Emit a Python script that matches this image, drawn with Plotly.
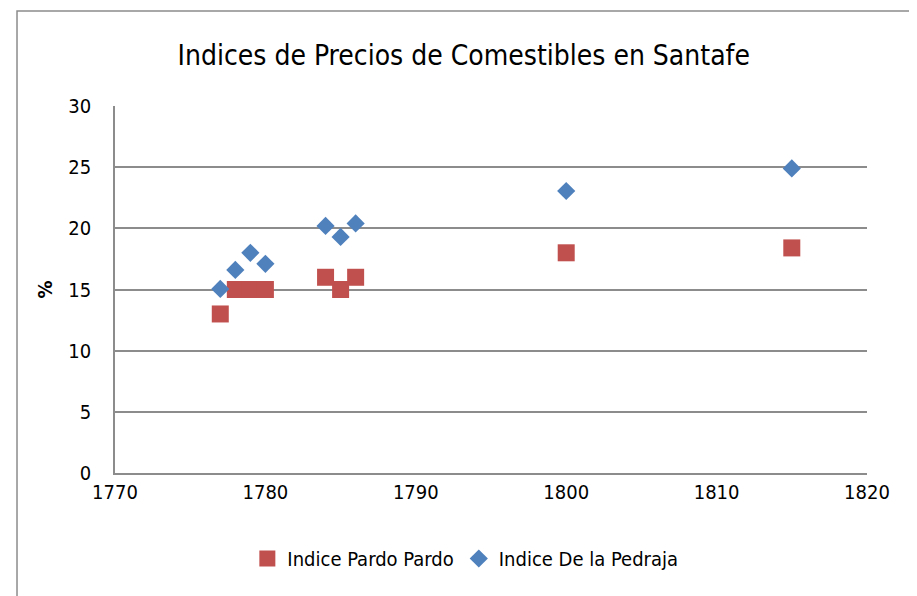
import plotly.graph_objects as go

years = [1777, 1778, 1779, 1780, 1784, 1785, 1786, 1800, 1815]
pardo = [13, 15, 15, 15, 16, 15, 16, 18, 18.4]
pedraja = [15.05, 16.6, 18, 17.1, 20.2, 19.3, 20.4, 23.05, 24.9]

font_name = "DejaVu Sans Condensed, Roboto, sans-serif"

fig = go.Figure()

fig.add_trace(
    go.Scatter(x = years,
               y = pardo,
               name = 'Indice Pardo Pardo',
               mode = 'markers',
               marker = dict(symbol = 'square', size = 17, color = '#C0504D')))

fig.add_trace(
    go.Scatter(x = years,
               y = pedraja,
               name = 'Indice De la Pedraja',
               mode = 'markers',
               marker = dict(symbol = 'diamond', size = 14, color = '#4F81BD')))

# page body has ~8px margin, so margins are shifted to keep the plot in place
fig.update_layout(title = dict(text = "Indices de Precios de Comestibles en Santafe",
                               x = 0.497, xanchor = 'center', y = 0.92, yanchor = 'middle',
                               font = dict(size = 28, color = 'black')),
                  font = dict(family = font_name, size = 20, color = 'black'),
                  width = 917,
                  height = 596,
                  margin = dict(l = 107, r = 58, t = 98, b = 131),
                  plot_bgcolor = 'white',
                  paper_bgcolor = 'white',
                  xaxis = dict(range = [1770, 1820], dtick = 10, showgrid = False,
                               showline = True, linecolor = '#8c8c8c', linewidth = 1.5,
                               zeroline = False, ticklabelstandoff = 0, automargin = False),
                  yaxis = dict(range = [0, 30], dtick = 5, showgrid = True,
                               gridcolor = '#8c8c8c', gridwidth = 1.5,
                               showline = True, linecolor = '#8c8c8c', linewidth = 1.5,
                               zeroline = False, ticklabelstandoff = 18, automargin = False,
                               title = dict(text = '<b>%</b>', standoff = 10,
                                            font = dict(size = 20))),
                  legend = dict(orientation = 'h', x = 0.176, y = -0.233,
                                xanchor = 'left', yanchor = 'middle',
                                itemwidth = 30, tracegroupgap = 0,
                                font = dict(size = 20)),
                  shapes = [dict(type = 'rect', xref = 'paper', yref = 'paper',
                                 x0 = -0.1303, x1 = 1.0598, y0 = -0.4, y1 = 1.2589,
                                 line = dict(color = '#8c8c8c', width = 1.5))])

fig.write_html("out.html")
